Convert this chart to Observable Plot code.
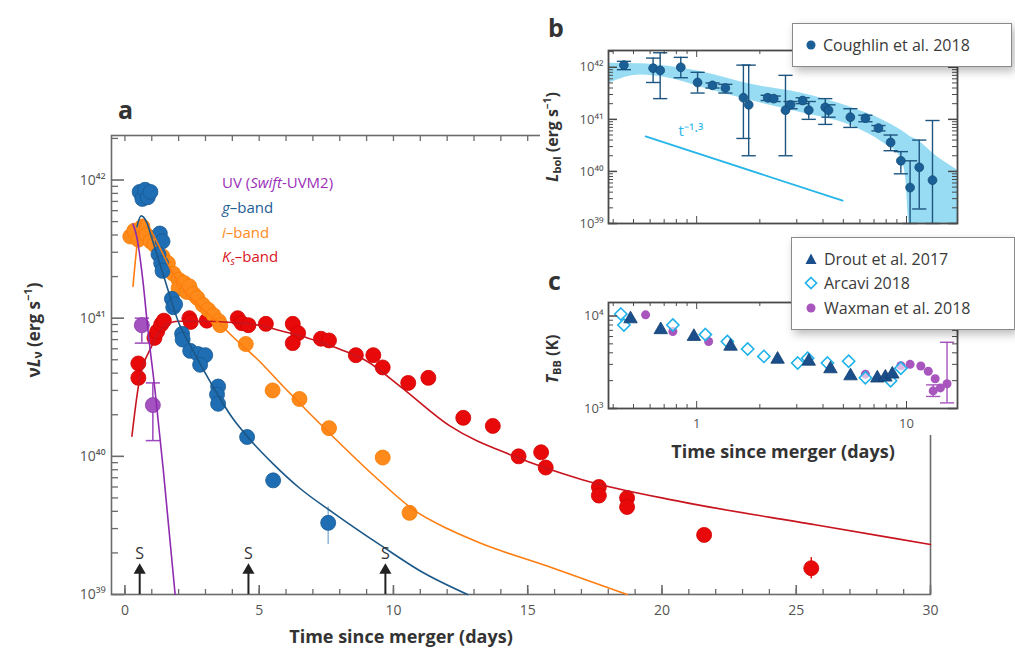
<!DOCTYPE html>
<html><head><meta charset="utf-8">
<script src="https://cdn.jsdelivr.net/npm/d3@7"></script>
<script src="https://cdn.jsdelivr.net/npm/@observablehq/plot@0.6"></script>
<style>
body{margin:0;background:#fff;}
#wrap{position:relative;width:1015px;height:652px;overflow:hidden;font-family:"Open Sans",sans-serif;}
#wrap > svg{position:absolute;}
.inset{position:absolute;left:540px;top:0;width:475px;height:435px;background:#fff;}
.legend{position:absolute;background:#fff;border:1px solid #8a8a8a;box-shadow:3px 4px 9px rgba(0,0,0,0.28);font-size:16px;color:#3a3a3a;box-sizing:border-box;}
.row{position:absolute;left:12px;display:flex;align-items:center;white-space:nowrap;}
.row svg{margin-right:6px;}
</style></head><body><div id="wrap"></div>
<script>
// ---------------- Panel a data ----------------
const uvT = [0.63, 1.04];
const uvL = [8.9e40, 2.35e40];
const uvLo = [6.6e40, 1.3e40];
const uvHi = [1.0e41, 3.4e40];

const gT = [0.55,0.65,0.75,0.85,0.95, 1.3,1.4,1.25,1.35,1.4,1.75,1.8,1.87, 2.13,2.15,2.43,2.72,2.99,2.8, 3.47,3.43,3.47, 4.55,5.52,7.57];
const gL = [8.2e41,7.3e41,8.5e41,7.5e41,8.2e41, 4.1e41,3.6e41,2.9e41,2.5e41,2.2e41,1.38e41,1.2e41,1.26e41, 7.7e40,7.0e40,5.8e40,5.5e40,5.4e40,4.6e40, 3.2e40,2.8e40,2.4e40, 1.38e40,6.7e39,3.3e39];

const iT = [0.2,0.35,0.5,0.65,0.8,0.95,1.1, 1.4,1.6,1.8,2.0,2.0,2.2,2.3,2.4,2.55,2.7,2.9,3.1,3.3,3.5, 3.55,4.5,5.5,6.5,7.6,9.6,10.6];
const iL = [3.9e41,4.3e41,3.7e41,4.6e41,4.0e41,3.6e41,3.4e41, 2.8e41,2.5e41,2.1e41,1.9e41,1.65e41,1.8e41,1.55e41,1.7e41,1.5e41,1.4e41,1.25e41,1.15e41,1.05e41,9.5e40, 8.9e40,6.5e40,3.0e40,2.6e40,1.6e40,9.8e39,3.9e39];

const kT = [0.5,0.5,1.1,1.2,1.35,1.45,2.4,2.45,3.05,4.2,4.35,4.6,5.25,6.25,6.45,6.25,7.3,7.6,8.6,9.25,9.6,10.55,11.3,12.6,13.7,14.66,15.5,15.67,17.65,17.65,18.7,18.7,21.57,25.56];
const kL = [4.7e40,3.7e40,7.2e40,8.0e40,9.0e40,9.6e40,1.0e41,9.4e40,9.6e40,1.0e41,9.2e40,8.9e40,9.1e40,9.1e40,7.8e40,6.6e40,7.1e40,6.9e40,5.4e40,5.4e40,4.4e40,3.4e40,3.7e40,1.9e40,1.66e40,1.0e40,1.07e40,8.3e39,6.0e39,5.2e39,5.0e39,4.3e39,2.7e39,1.55e39];

const errT = [7.57, 25.56];
const errLo = [2.3e39, 1.3e39];
const errHi = [4.3e39, 1.85e39];

const uvModelT = [0.30,0.45,0.67,0.86,1.12,1.42,1.87];
const uvModelL = [4.8e41,3.8e41,1.86e41,8.1e40,3.0e40,8.3e39,1.0e39];
const gModelT = [0.45,0.6,0.8,1.0,1.5,2.0,2.5,3.2,4.0,4.66,5.5,6.5,7.76,9.63,11,12.76];
const gModelL = [4.6e41,5.5e41,5.0e41,3.8e41,1.86e41,9.3e40,6.0e40,3.4e40,1.9e40,1.32e40,8.9e39,5.9e39,3.9e39,2.2e39,1.48e39,1.0e39];
const iModelT = [0.3,0.5,0.67,1.0,1.5,1.94,2.69,3.54,4.0,5.0,5.9,7.76,9.5,10.75,12.0,13.25,15.75,18.7];
const iModelL = [1.7e41,4.0e41,5.2e41,4.2e41,2.7e41,1.86e41,1.26e41,9.1e40,7.4e40,4.9e40,3.2e40,1.38e40,6.6e39,4.1e39,3.0e39,2.35e39,1.6e39,1.0e39];
const kModelT = [0.26,0.5,1.0,1.5,2.0,3,4,5,5.8,6.8,7.76,9.0,10.26,12.1,14.5,17,20.7,25.7,30];
const kModelL = [1.4e40,3.2e40,6.3e40,8.9e40,9.5e40,9.5e40,9.3e40,8.9e40,8.1e40,7.2e40,6.2e40,4.9e40,3.2e40,1.66e40,1.0e40,6.8e39,4.7e39,3.2e39,2.3e39];

const spectraT = [0.55, 4.6, 9.7];
const xTicksA = [0,5,10,15,20,25,30];
const yTicksA = [1e39,1e40,1e41,1e42];

// ---------------- Panel b data ----------------
const bT  = [0.45,0.62,0.67,0.84,1.01,1.19,1.37,1.67,1.77,2.18,2.33,2.65,2.8,3.2,3.42,4.1,4.25,5.4,6.37,7.35,8.4,9.4,10.4,11.5,13.3];
const bL  = [1.1e42,9.6e41,8.7e41,1.0e42,5.1e41,4.5e41,4.0e41,2.6e41,1.9e41,2.6e41,2.5e41,1.5e41,1.9e41,2.3e41,1.5e41,1.7e41,1.5e41,1.1e41,1.05e41,6.8e40,3.6e40,1.6e40,4.9e39,1.2e40,6.8e39];
const bLo = [9.0e41,5.1e41,2.5e41,6.3e41,3.2e41,4.0e41,3.2e41,4.3e40,2.0e40,2.3e41,2.2e41,2.0e40,1.6e41,2.0e41,1.0e41,8.0e40,1.1e41,7.0e40,9.0e40,6.0e40,2.5e40,9.0e39,1.0e39,1.9e39,1.0e39];
const bHi = [1.3e42,1.5e42,1.9e42,1.55e42,8.0e41,5.0e41,4.7e41,1.1e42,1.1e42,2.9e41,2.8e41,7.0e41,2.2e41,2.6e41,2.2e41,2.5e41,1.9e41,1.6e41,1.2e41,7.6e40,5.0e40,2.4e40,1.6e40,4.0e40,9.5e40];
const bandT  = [0.38,0.54,0.73,1.04,1.81,3.13,5.41,7.77,9.35,9.9,10.3,11.3,13.4,17.5];
const bandHi = [1.2e42,1.17e42,1.05e42,8.3e41,4.7e41,3.2e41,1.7e41,9.5e40,6.3e40,5.4e40,4.8e40,4.0e40,2.2e40,1.05e40];
const bandLo = [4.9e41,7.1e41,6.2e41,4.2e41,2.3e41,1.35e41,7.6e40,3.5e40,1.9e40,7.9e39,1e39,1e39,1e39,1e39];
const powT = [0.571, 4.96];
const powL = [4.7e40, 2.75e39];
const yTicksB = [1e39,1e40,1e41,1e42];

// ---------------- Panel c data ----------------
const droutT = [0.484,0.674,0.97,1.45,2.43,3.42,4.34,5.41,7.26,7.93,8.56];
const droutK = [9300,7100,6000,4700,3400,3240,2680,2250,2130,2180,2350];
const arcaviT = [0.435,0.45,0.77,1.10,1.40,1.75,2.09,3.03,3.38,4.2,5.3,6.37,8.4,9.4];
const arcaviK = [10500,8000,8000,6300,5300,4400,3660,3100,3500,3100,3240,2150,2000,2730];
const waxT = [0.571,0.77,1.14,6.37,9.4,10.4,11.7,12.7,13.7,13.4,14.5,15.6];
const waxK = [10300,6800,5300,2350,2900,3000,2880,2530,2100,1550,1670,1850];
const waxErrT = [13.4, 15.6];
const waxErrLo = [1350, 1150];
const waxErrHi = [1800, 5200];
const xTicksC = [1, 10];
const yTicksC = [1e3, 1e4];

// ---------------- helpers ----------------
const zip = (xs, ys) => xs.map((x, i) => ({x, y: ys[i]}));
const sup = {"0":"⁰","1":"¹","2":"²","3":"³","4":"⁴","5":"⁵","6":"⁶","7":"⁷","8":"⁸","9":"⁹","-":"⁻"};
const pow10 = d => "10" + String(Math.round(Math.log10(d))).split("").map(c => sup[c]).join("");
function logMinor(lo, hi) {
  const out = [];
  for (let e = Math.floor(Math.log10(lo)); e <= Math.ceil(Math.log10(hi)); e++)
    for (let m = 1; m < 10; m++) { const v = m * 10 ** e; if (v >= lo * 0.999 && v <= hi * 1.001) out.push(v); }
  return out;
}
const isMajor = v => Math.abs(Math.log10(v) - Math.round(Math.log10(v))) < 1e-9;
const capSym = {draw(ctx, size) { const w = Math.sqrt(size); ctx.moveTo(-w, 0); ctx.lineTo(w, 0); }};
const FONT = '"Open Sans", sans-serif';

const wrap = d3.select("#wrap");

// ---------------- Panel a ----------------
const A = {w:1015, h:652, ml:111, mr:85, mt:135, mb:58};
const aFW = A.w - A.ml - A.mr, aFH = A.h - A.mt - A.mb;
const axC = "#6b6b6b";
const xMinorA = d3.range(0, 31, 1);
const yMinorA = logMinor(1e39, 2.1e42);
const cG = "#1f6db2", cI = "#ff8a1c", cK = "#e80a0a", cU = "#9c47bb";

const plotA = Plot.plot({
  width: A.w, height: A.h, marginLeft: A.ml, marginRight: A.mr, marginTop: A.mt, marginBottom: A.mb,
  style: {background: "#fff", fontFamily: FONT, fontSize: "14px", color: "#555"},
  x: {domain: [-0.5, 30], ticks: xTicksA, tickSize: 0, tickPadding: 11, label: null},
  y: {type: "log", domain: [1e39, 2.1e42], ticks: yTicksA, tickFormat: pow10, tickSize: 0, tickPadding: 6, label: null},
  marks: [
    Plot.tickX(xMinorA, {x: d => d, insetTop: aFH - 5, stroke: axC, strokeWidth: 1.3}),
    Plot.tickX(xTicksA, {x: d => d, insetTop: aFH - 9, stroke: axC, strokeWidth: 1.6}),
    Plot.tickX(xMinorA, {x: d => d, insetBottom: aFH - 6, stroke: axC, strokeWidth: 1.3}),
    Plot.tickY(yMinorA.filter(v => !isMajor(v)), {y: d => d, insetRight: aFW - 7, stroke: axC, strokeWidth: 1.3}),
    Plot.tickY(yMinorA.filter(isMajor), {y: d => d, insetRight: aFW - 13, stroke: axC, strokeWidth: 1.6}),
    Plot.frame({stroke: axC, strokeWidth: 1.6}),
    // error bars
    Plot.ruleX(uvT.map((t, i) => ({x: t, lo: uvLo[i], hi: uvHi[i]})), {x: "x", y1: "lo", y2: "hi", stroke: cU, strokeWidth: 1.5}),
    Plot.dot(uvT.flatMap((t, i) => [{x: t, y: uvLo[i]}, {x: t, y: uvHi[i]}]), {x: "x", y: "y", symbol: capSym, r: 4, stroke: cU, strokeWidth: 1.5}),
    Plot.ruleX([{x: errT[0], lo: errLo[0], hi: errHi[0]}], {x: "x", y1: "lo", y2: "hi", stroke: "#8fb6d8", strokeWidth: 1.5}),
    Plot.ruleX([{x: errT[1], lo: errLo[1], hi: errHi[1]}], {x: "x", y1: "lo", y2: "hi", stroke: cK, strokeWidth: 1.5}),
    // points
    Plot.dot(zip(kT, kL), {x: "x", y: "y", r: 7.5, fill: cK, stroke: "#d00000", strokeWidth: 0.8}),
    Plot.dot(zip(iT, iL), {x: "x", y: "y", r: 7.5, fill: cI, stroke: "#f57a00", strokeWidth: 0.8}),
    Plot.dot(zip(gT, gL), {x: "x", y: "y", r: 7.5, fill: cG, stroke: "#185a94", strokeWidth: 0.8}),
    Plot.dot(zip(uvT, uvL), {x: "x", y: "y", r: 7.5, fill: "#a352bf", stroke: "#8c3aab", strokeWidth: 0.8}),
    // models
    Plot.line(zip(kModelT, kModelL), {x: "x", y: "y", stroke: "#c8141e", strokeWidth: 1.6, curve: "monotone-x"}),
    Plot.line(zip(iModelT, iModelL), {x: "x", y: "y", stroke: "#ff7d10", strokeWidth: 1.6, curve: "monotone-x"}),
    Plot.line(zip(gModelT, gModelL), {x: "x", y: "y", stroke: "#1b5888", strokeWidth: 1.6, curve: "monotone-x"}),
    Plot.line(zip(uvModelT, uvModelL), {x: "x", y: "y", stroke: "#8e2bb0", strokeWidth: 1.6, curve: "monotone-x"}),
    // spectra arrows
    Plot.ruleX(spectraT, {x: d => d, y1: 1e39, y2: 1.45e39, stroke: "#222", strokeWidth: 2}),
    Plot.dot(spectraT, {x: d => d, y: 1.5e39, symbol: "triangle", r: 4.5, fill: "#222", stroke: "none"}),
    Plot.text(spectraT, {x: d => d, y: 1.98e39, text: () => "S", fontSize: 16, fill: "#333", fontFamily: FONT})
  ]
});
d3.select(plotA).style("left", "0px").style("top", "0px");
wrap.node().appendChild(plotA);

// inset background
wrap.append("div").attr("class", "inset");

// ---------------- Panel b ----------------
const B = {w:475, h:235, ml:68, mr:58, mt:50, mb:12};
const bFW = B.w - B.ml - B.mr, bFH = B.h - B.mt - B.mb;
const bAx = "#4a4a4a";
const xMinorBC = logMinor(0.38, 17.5);
const yMinorB = logMinor(1e39, 2.1e42);
const bBlue = "#1a5f96";
const plotB = Plot.plot({
  width: B.w, height: B.h, marginLeft: B.ml, marginRight: B.mr, marginTop: B.mt, marginBottom: B.mb,
  style: {background: "transparent", fontFamily: FONT, fontSize: "13px", color: "#555"},
  x: {type: "log", domain: [0.38, 17.5], axis: null},
  y: {type: "log", domain: [1e39, 2.1e42], ticks: yTicksB, tickFormat: pow10, tickSize: 0, tickPadding: 5, label: null},
  marks: [
    Plot.areaY(bandT.map((t, i) => ({x: t, lo: bandLo[i], hi: bandHi[i]})), {x: "x", y1: "lo", y2: "hi", fill: "#86d6f1", fillOpacity: 0.85, curve: "monotone-x"}),
    Plot.line(zip(powT, powL), {x: "x", y: "y", stroke: "#25b5e8", strokeWidth: 1.8}),
    Plot.text([{x: 0.82, y: 6.0e40}], {x: "x", y: "y", text: () => "t⁻¹·³", fill: "#25b5e8", fontSize: 15, fontFamily: FONT, textAnchor: "start"}),
    Plot.ruleX(bT.map((t, i) => ({x: t, lo: bLo[i], hi: bHi[i]})), {x: "x", y1: "lo", y2: "hi", stroke: "#1d5580", strokeWidth: 1.4}),
    Plot.dot(bT.flatMap((t, i) => [{x: t, y: bLo[i]}, {x: t, y: bHi[i]}]), {x: "x", y: "y", symbol: capSym, r: 4, stroke: "#1d5580", strokeWidth: 1.4}),
    Plot.dot(zip(bT, bL), {x: "x", y: "y", r: 4.4, fill: bBlue, stroke: "#164d7a", strokeWidth: 0.8}),
    Plot.tickX(xMinorBC.filter(v => !isMajor(v)), {x: d => d, insetTop: bFH - 4, stroke: bAx}),
    Plot.tickX(xMinorBC.filter(isMajor), {x: d => d, insetTop: bFH - 7, stroke: bAx}),
    Plot.tickX(xMinorBC.filter(v => !isMajor(v)), {x: d => d, insetBottom: bFH - 4, stroke: bAx}),
    Plot.tickX(xMinorBC.filter(isMajor), {x: d => d, insetBottom: bFH - 7, stroke: bAx}),
    Plot.tickY(yMinorB.filter(v => !isMajor(v)), {y: d => d, insetRight: bFW - 5, stroke: bAx}),
    Plot.tickY(yMinorB.filter(isMajor), {y: d => d, insetRight: bFW - 9, stroke: bAx, strokeWidth: 1.5}),
    Plot.tickY(yMinorB.filter(v => !isMajor(v)), {y: d => d, insetLeft: bFW - 5, stroke: bAx}),
    Plot.tickY(yMinorB.filter(isMajor), {y: d => d, insetLeft: bFW - 9, stroke: bAx, strokeWidth: 1.5}),
    Plot.frame({stroke: bAx, strokeWidth: 1.8})
  ]
});
d3.select(plotB).style("left", "540px").style("top", "0px");
wrap.node().appendChild(plotB);

// ---------------- Panel c ----------------
const C = {w:475, h:235, ml:68, mr:58, mt:67, mb:62};
const cFW = C.w - C.ml - C.mr, cFH = C.h - C.mt - C.mb;
const yMinorC = logMinor(1000, 14000);
const plotC = Plot.plot({
  width: C.w, height: C.h, marginLeft: C.ml, marginRight: C.mr, marginTop: C.mt, marginBottom: C.mb,
  style: {background: "transparent", fontFamily: FONT, fontSize: "13px", color: "#555"},
  x: {type: "log", domain: [0.38, 17.5], ticks: xTicksC, tickFormat: d => String(d), tickSize: 0, tickPadding: 10, label: null},
  y: {type: "log", domain: [1000, 14000], ticks: yTicksC, tickFormat: pow10, tickSize: 0, tickPadding: 5, label: null},
  marks: [
    Plot.ruleX(waxErrT.map((t, i) => ({x: t, lo: waxErrLo[i], hi: waxErrHi[i]})), {x: "x", y1: "lo", y2: "hi", stroke: "#a855bd", strokeWidth: 1.4}),
    Plot.dot(waxErrT.flatMap((t, i) => [{x: t, y: waxErrLo[i]}, {x: t, y: waxErrHi[i]}]), {x: "x", y: "y", symbol: capSym, r: 4, stroke: "#a855bd", strokeWidth: 1.4}),
    Plot.dot(zip(waxT, waxK), {x: "x", y: "y", r: 4.5, fill: "#a855bd", stroke: "none"}),
    Plot.dot(zip(arcaviT, arcaviK), {x: "x", y: "y", symbol: "diamond2", r: 5.5, fill: "#fff", fillOpacity: 0.6, stroke: "#1fb2ea", strokeWidth: 1.6}),
    Plot.dot(zip(droutT, droutK), {x: "x", y: "y", symbol: "triangle", r: 5, fill: "#1b4f8c", stroke: "#123d6e", strokeWidth: 0.8}),
    Plot.tickX(xMinorBC.filter(v => !isMajor(v)), {x: d => d, insetTop: cFH - 4, stroke: bAx}),
    Plot.tickX(xMinorBC.filter(isMajor), {x: d => d, insetTop: cFH - 7, stroke: bAx}),
    Plot.tickX(xMinorBC.filter(v => !isMajor(v)), {x: d => d, insetBottom: cFH - 4, stroke: bAx}),
    Plot.tickX(xMinorBC.filter(isMajor), {x: d => d, insetBottom: cFH - 7, stroke: bAx}),
    Plot.tickY(yMinorC.filter(v => !isMajor(v)), {y: d => d, insetRight: cFW - 5, stroke: bAx}),
    Plot.tickY(yMinorC.filter(isMajor), {y: d => d, insetRight: cFW - 9, stroke: bAx, strokeWidth: 1.5}),
    Plot.tickY(yMinorC.filter(v => !isMajor(v)), {y: d => d, insetLeft: cFW - 5, stroke: bAx}),
    Plot.tickY(yMinorC.filter(isMajor), {y: d => d, insetLeft: cFW - 9, stroke: bAx, strokeWidth: 1.5}),
    Plot.frame({stroke: bAx, strokeWidth: 1.8})
  ]
});
d3.select(plotC).style("left", "540px").style("top", "235px");
wrap.node().appendChild(plotC);

// ---------------- rich text labels ----------------
function rich(svg, x, y, parts, o = {}) {
  const t = d3.select(svg).append("text").attr("x", x).attr("y", y)
    .attr("font-size", o.size || 16).attr("fill", o.fill || "#222").attr("font-weight", o.weight || "normal")
    .attr("text-anchor", o.anchor || "start").attr("dominant-baseline", "middle").attr("font-family", FONT);
  if (o.rotate) t.attr("transform", `rotate(-90 ${x} ${y})`);
  for (const p of parts) {
    const s = t.append("tspan").text(p.t);
    if (p.i) s.attr("font-style", "italic");
    if (p.dy) s.attr("dy", p.dy);
    if (p.size) s.attr("font-size", p.size);
    if (p.fill) s.attr("fill", p.fill);
  }
  return t;
}
// panel a
rich(plotA, 118, 112, [{t: "a"}], {size: 25, weight: "bold", fill: "#333"});
rich(plotA, 401, 638, [{t: "Time since merger (days)"}], {size: 18, weight: "bold", anchor: "middle", fill: "#333"});
rich(plotA, 35, 330, [{t: "ν"}, {t: "L", i: 1}, {t: "ν", size: 12, dy: 4}, {t: " (erg s", dy: -4}, {t: "−1", size: 11, dy: -6}, {t: ")", dy: 6}], {size: 17, weight: "bold", anchor: "middle", rotate: true, fill: "#333"});
rich(plotA, 222, 184, [{t: "UV ("}, {t: "Swift", i: 1}, {t: "-UVM2)"}], {size: 15, fill: "#9b30b8"});
rich(plotA, 222, 209, [{t: "g", i: 1}, {t: "–band"}], {size: 15, fill: "#1d5d94"});
rich(plotA, 222, 234, [{t: "i", i: 1}, {t: "–band"}], {size: 15, fill: "#ff8a1c"});
rich(plotA, 222, 258, [{t: "K", i: 1}, {t: "s", i: 1, size: 10, dy: 4}, {t: "–band", dy: -4}], {size: 15, fill: "#d8161e"});
// panel b
rich(plotB, 8, 30, [{t: "b"}], {size: 25, weight: "bold", fill: "#333"});
rich(plotB, 14, 137, [{t: "L", i: 1}, {t: "bol", size: 11, dy: 4}, {t: " (erg s", dy: -4}, {t: "−1", size: 10, dy: -6}, {t: ")", dy: 6}], {size: 16, weight: "bold", anchor: "middle", rotate: true, fill: "#333"});
// panel c
rich(plotC, 8, 48, [{t: "c"}], {size: 25, weight: "bold", fill: "#333"});
rich(plotC, 14, 124, [{t: "T", i: 1}, {t: "BB", size: 11, dy: 4}, {t: " (K)", dy: -4}], {size: 16, weight: "bold", anchor: "middle", rotate: true, fill: "#333"});
rich(plotC, 243, 218, [{t: "Time since merger (days)"}], {size: 18, weight: "bold", anchor: "middle", fill: "#333"});

// ---------------- legends ----------------
const legB = wrap.append("div").attr("class", "legend").style("left", "792px").style("top", "23px").style("width", "220px").style("height", "44px");
legB.append("div").attr("class", "row").style("top", "10px")
  .html(`<svg width="12" height="12"><circle cx="6" cy="6" r="4.5" fill="${bBlue}"/></svg><span>Coughlin et al. 2018</span>`);
const legC = wrap.append("div").attr("class", "legend").style("left", "791px").style("top", "237px").style("width", "224px").style("height", "93px");
legC.append("div").attr("class", "row").style("top", "10px")
  .html(`<svg width="14" height="14"><path d="M7 1.5 L12.5 12 L1.5 12 Z" fill="#1b4f8c"/></svg><span>Drout et al. 2017</span>`);
legC.append("div").attr("class", "row").style("top", "34px")
  .html(`<svg width="14" height="14"><path d="M7 1.5 L12.5 7 L7 12.5 L1.5 7 Z" fill="#fff" stroke="#1fb2ea" stroke-width="1.7"/></svg><span>Arcavi 2018</span>`);
legC.append("div").attr("class", "row").style("top", "59px")
  .html(`<svg width="14" height="14"><circle cx="7" cy="7" r="4.5" fill="#a855bd"/></svg><span>Waxman et al. 2018</span>`);
</script></body></html>
